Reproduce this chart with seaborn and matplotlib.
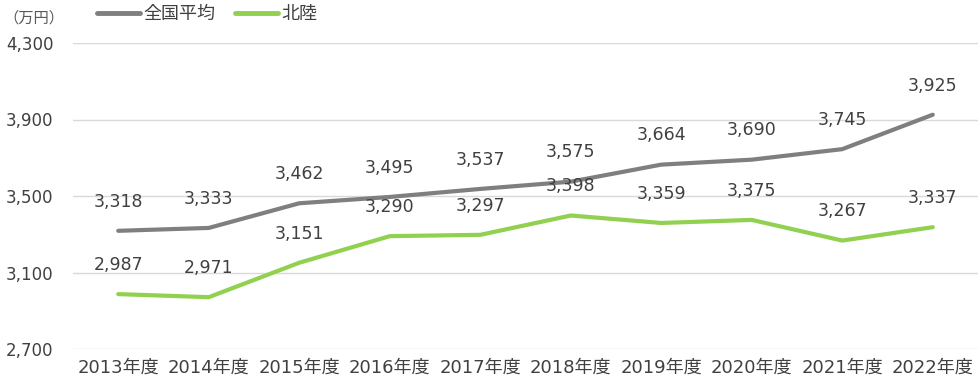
import matplotlib.pyplot as plt
import seaborn as sns
import pandas as pd

years = ["2013年度", "2014年度", "2015年度", "2016年度", "2017年度",
         "2018年度", "2019年度", "2020年度", "2021年度", "2022年度"]
national = [3318, 3333, 3462, 3495, 3537, 3575, 3664, 3690, 3745, 3925]
hokuriku = [2987, 2971, 3151, 3290, 3297, 3398, 3359, 3375, 3267, 3337]
series_names = ["全国平均", "北陸"]
colors = ["#7f7f7f", "#92d050"]
yticks = [2700, 3100, 3500, 3900, 4300]

df = pd.DataFrame({
    "year": years * 2,
    "pos": list(range(len(years))) * 2,
    "value": national + hokuriku,
    "series": [series_names[0]] * len(years) + [series_names[1]] * len(years),
})

sns.set_style("white")
plt.rcParams["font.family"] = ["DejaVu Sans", "Noto Sans CJK JP"]

fig = plt.figure(figsize=(9.8, 3.9), dpi=100)
ax = fig.add_axes([73 / 980, 1 - 349 / 390, 905 / 980, 306 / 390])

sns.lineplot(data=df, x="pos", y="value", hue="series", palette=colors,
             linewidth=3, ax=ax, legend=False)

for vals in (national, hokuriku):
    for i, v in enumerate(vals):
        ax.annotate(f"{v:,}", (i, v), xytext=(0, 21), textcoords="offset points",
                    ha="center", va="center", fontsize=12.5, color="#404040")

ax.set_xlim(-0.5, len(years) - 0.5)
ax.set_ylim(2700, 4300)
ax.set_xticks(range(len(years)))
ax.set_xticklabels(years, fontsize=13)
ax.set_yticks(yticks)
ax.set_yticklabels([f"{t:,}" for t in yticks], fontsize=12)
ax.tick_params(axis="both", length=0, colors="#404040")
ax.tick_params(axis="y", pad=14)
ax.tick_params(axis="x", pad=7)
ax.yaxis.grid(True, color="#d9d9d9", linewidth=1)
ax.set_axisbelow(True)
for s in ax.spines.values():
    s.set_visible(False)
ax.set_xlabel("")
ax.set_ylabel("")

fig.text(3 / 980, 1 - 18 / 390, "（万円）", fontsize=11, color="#595959",
         va="center", ha="left", family=["Noto Sans CJK JP", "DejaVu Sans"])

handles = [plt.Line2D([], [], color=c, linewidth=3.5) for c in colors]
fig.legend(handles, series_names, loc="center left",
           bbox_to_anchor=(97 / 980, 1 - 14 / 390), ncol=2, frameon=False,
           borderpad=0, borderaxespad=0,
           prop={"family": ["Noto Sans CJK JP"], "size": 13},
           handlelength=2.4, handletextpad=0.15, columnspacing=1.1,
           labelcolor="#404040")

fig.savefig("out.png", dpi=100)
